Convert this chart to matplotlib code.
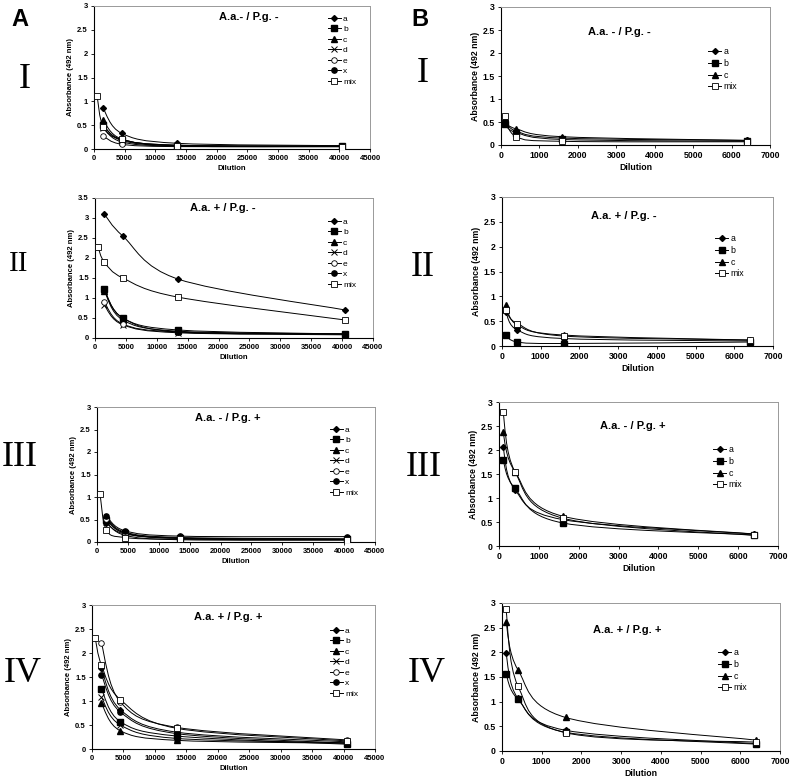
import numpy as np
import matplotlib
matplotlib.use('Agg')
import matplotlib.pyplot as plt
from matplotlib.path import Path
from matplotlib.patches import PathPatch
from matplotlib.lines import Line2D
from matplotlib.ticker import MultipleLocator, FormatStrFormatter

plt.rcParams['font.family'] = ['Liberation Sans', 'DejaVu Sans']

# ---------------- data ----------------
dil_A = [1500, 4500, 13500, 40500]
dil_A_mix = [500, 1500, 4500, 13500, 40500]
dil_B = [100, 400, 1600, 6400]

series_A = ['a', 'b', 'c', 'd', 'e', 'x', 'mix']
series_B = ['a', 'b', 'c', 'mix']

A_I = {
    'a': [0.85, 0.33, 0.12, 0.07],
    'b': [0.50, 0.18, 0.07, 0.06],
    'c': [0.60, 0.21, 0.08, 0.06],
    'd': [0.45, 0.15, 0.06, 0.05],
    'e': [0.27, 0.10, 0.05, 0.05],
    'x': [0.50, 0.20, 0.08, 0.06],
    'mix': [1.12, 0.47, 0.20, 0.07, 0.05],
}
A_II = {
    'a': [3.10, 2.55, 1.47, 0.70],
    'b': [1.22, 0.50, 0.20, 0.10],
    'c': [1.18, 0.45, 0.17, 0.10],
    'd': [0.82, 0.33, 0.13, 0.08],
    'e': [0.90, 0.35, 0.15, 0.10],
    'x': [1.20, 0.50, 0.15, 0.10],
    'mix': [2.27, 1.90, 1.50, 1.02, 0.45],
}
A_III = {
    'a': [0.42, 0.18, 0.08, 0.06],
    'b': [0.50, 0.20, 0.08, 0.06],
    'c': [0.55, 0.22, 0.10, 0.07],
    'd': [0.45, 0.15, 0.05, 0.04],
    'e': [0.52, 0.20, 0.09, 0.06],
    'x': [0.58, 0.25, 0.13, 0.12],
    'mix': [1.06, 0.27, 0.10, 0.06, 0.05],
}
A_IV = {
    'a': [1.68, 0.82, 0.35, 0.15],
    'b': [1.25, 0.57, 0.27, 0.10],
    'c': [0.95, 0.38, 0.18, 0.12],
    'd': [1.08, 0.50, 0.22, 0.13],
    'e': [2.20, 0.98, 0.45, 0.19],
    'x': [1.55, 0.77, 0.32, 0.12],
    'mix': [2.32, 1.75, 1.03, 0.43, 0.17],
}
B_I = {
    'a': [0.55, 0.30, 0.15, 0.10],
    'b': [0.45, 0.27, 0.12, 0.08],
    'c': [0.50, 0.35, 0.18, 0.10],
    'mix': [0.63, 0.18, 0.08, 0.07],
}
B_II = {
    'a': [0.68, 0.32, 0.15, 0.10],
    'b': [0.22, 0.08, 0.05, 0.08],
    'c': [0.82, 0.42, 0.22, 0.12],
    'mix': [0.72, 0.45, 0.20, 0.12],
}
B_III = {
    'a': [2.07, 1.17, 0.55, 0.25],
    'b': [1.80, 1.20, 0.48, 0.23],
    'c': [2.37, 1.55, 0.62, 0.25],
    'mix': [2.80, 1.55, 0.58, 0.22],
}
B_IV = {
    'a': [1.98, 1.07, 0.42, 0.15],
    'b': [1.57, 1.05, 0.38, 0.14],
    'c': [2.62, 1.65, 0.68, 0.22],
    'mix': [2.87, 1.32, 0.37, 0.18],
}

titles_A = ['A.a.- / P.g. -', 'A.a. + / P.g. -', 'A.a. - / P.g. +', 'A.a. + / P.g. +']
titles_B = ['A.a. - / P.g. -', 'A.a. + / P.g. -', 'A.a. - / P.g. +', 'A.a. + / P.g. +']
romans = ['I', 'II', 'III', 'IV']
ymax_A = [3, 3.5, 3, 3]

# ---------------- styles ----------------
marker_style = {
    'a': dict(marker='D', ms=3.0, mfc='black', mec='black'),
    'b': dict(marker='s', ms=3.8, mfc='black', mec='black'),
    'c': dict(marker='^', ms=4.0, mfc='black', mec='black'),
    'd': dict(marker='x', ms=4.0, mfc='black', mec='black', mew=0.7),
    'e': dict(marker='o', ms=4.0, mfc='white', mec='black', mew=0.6),
    'x': dict(marker='o', ms=3.8, mfc='black', mec='black'),
    'mix': dict(marker='s', ms=4.5, mfc='white', mec='black', mew=0.6),
}

W, H = 800, 783
fig = plt.figure(figsize=(W / 100, H / 100), dpi=100)


def px_rect(l, r, t, b):
    return [l / W, 1 - b / H, (r - l) / W, (b - t) / H]


def smooth_path(xs, ys):
    pts = np.column_stack([xs, ys]).astype(float)
    n = len(pts)
    verts = [pts[0]]
    codes = [Path.MOVETO]
    for i in range(n - 1):
        p0 = pts[max(i - 1, 0)]
        p1 = pts[i]
        p2 = pts[i + 1]
        p3 = pts[min(i + 2, n - 1)]
        c1 = p1 + (p2 - p0) / 6.0
        c2 = p2 - (p3 - p1) / 6.0
        verts += [c1, c2, p2]
        codes += [Path.CURVE4] * 3
    return Path(verts, codes)


def draw_panel(rect, data, names, xdict, xmax, xstep, ymax, title, title_pos,
               leg_px, fs, leg_fs):
    ax = fig.add_axes(rect)
    for nm in names:
        xs = xdict(nm)
        ys = data[nm]
        ax.add_patch(PathPatch(smooth_path(xs, ys), fill=False, lw=0.7,
                               ec='black', zorder=2))
    for nm in names:
        xs = xdict(nm)
        ys = data[nm]
        ax.plot(xs, ys, ls='none', color='black', zorder=3, **marker_style[nm])
    ax.set_xlim(0, xmax)
    ax.set_ylim(0, ymax)
    ax.xaxis.set_major_locator(MultipleLocator(xstep))
    ax.yaxis.set_major_locator(MultipleLocator(0.5))
    ax.yaxis.set_major_formatter(FormatStrFormatter('%g'))
    ax.tick_params(direction='out', length=2.5, width=0.6, labelsize=fs, pad=2)
    for lab in ax.get_xticklabels() + ax.get_yticklabels():
        lab.set_fontweight('bold')
    for s in ['left', 'bottom']:
        ax.spines[s].set_color('black')
        ax.spines[s].set_linewidth(0.8)
    for s in ['top', 'right']:
        ax.spines[s].set_color('#999999')
        ax.spines[s].set_linewidth(0.7)
    ax.set_xlabel('Dilution', fontsize=fs, fontweight='bold', labelpad=2)
    ax.set_ylabel('Absorbance (492 nm)', fontsize=fs, fontweight='bold', labelpad=2)
    ax.text(title_pos[0], title_pos[1], title, transform=ax.transAxes,
            ha='center', va='center', fontsize=8, fontweight='bold')
    handles = [Line2D([], [], color='black', lw=0.7, **marker_style[nm]) for nm in names]
    ax.legend(handles, names, loc='upper left',
              bbox_to_anchor=(leg_px[0] / W, 1 - leg_px[1] / H),
              bbox_transform=fig.transFigure, frameon=False, fontsize=leg_fs,
              handlelength=1.5, handletextpad=0.3, labelspacing=0.32,
              borderpad=0, borderaxespad=0)
    return ax


xA = lambda nm: dil_A_mix if nm == 'mix' else dil_A
xB = lambda nm: dil_B

A_rects = [px_rect(94, 370, 6, 149), px_rect(95, 373, 198, 338),
           px_rect(97, 375, 407, 542), px_rect(92, 375, 605, 749)]
B_rects = [px_rect(501, 770, 7, 145), px_rect(502, 773, 197, 346),
           px_rect(499, 778, 402, 546), px_rect(502, 780, 603, 751)]
A_title_pos = [(0.56, 0.92), (0.46, 0.93), (0.47, 0.92), (0.48, 0.92)]
B_title_pos = [(0.44, 0.82), (0.45, 0.87), (0.48, 0.83), (0.45, 0.82)]
A_leg = [(328, 15), (328, 218), (330, 426), (330, 627)]
B_leg = [(708, 47), (715, 234), (713, 445), (718, 648)]
A_data = [A_I, A_II, A_III, A_IV]
B_data = [B_I, B_II, B_III, B_IV]

for i in range(4):
    draw_panel(A_rects[i], A_data[i], series_A, xA, 45000, 5000, ymax_A[i],
               titles_A[i], A_title_pos[i], A_leg[i], 5.5, 6)
    draw_panel(B_rects[i], B_data[i], series_B, xB, 7000, 1000, 3,
               titles_B[i], B_title_pos[i], B_leg[i], 6.3, 6.3)

# panel letters and roman numerals
fig.text(20 / W, 1 - 19 / H, 'A', fontsize=17, fontweight='bold', ha='center', va='center')
fig.text(420 / W, 1 - 19 / H, 'B', fontsize=17, fontweight='bold', ha='center', va='center')
A_rom_pos = [(25, 80), (19, 264), (20, 458), (23, 673)]
B_rom_pos = [(423, 73), (423, 268), (424, 467), (427, 673)]
A_rom_fs = [26, 21, 26, 26]
for i in range(4):
    fig.text(A_rom_pos[i][0] / W, 1 - A_rom_pos[i][1] / H, romans[i],
             fontsize=A_rom_fs[i], family=['Liberation Serif', 'DejaVu Serif'],
             ha='center', va='center')
    fig.text(B_rom_pos[i][0] / W, 1 - B_rom_pos[i][1] / H, romans[i],
             fontsize=26, family=['Liberation Serif', 'DejaVu Serif'],
             ha='center', va='center')

fig.savefig('out.png', dpi=100)
